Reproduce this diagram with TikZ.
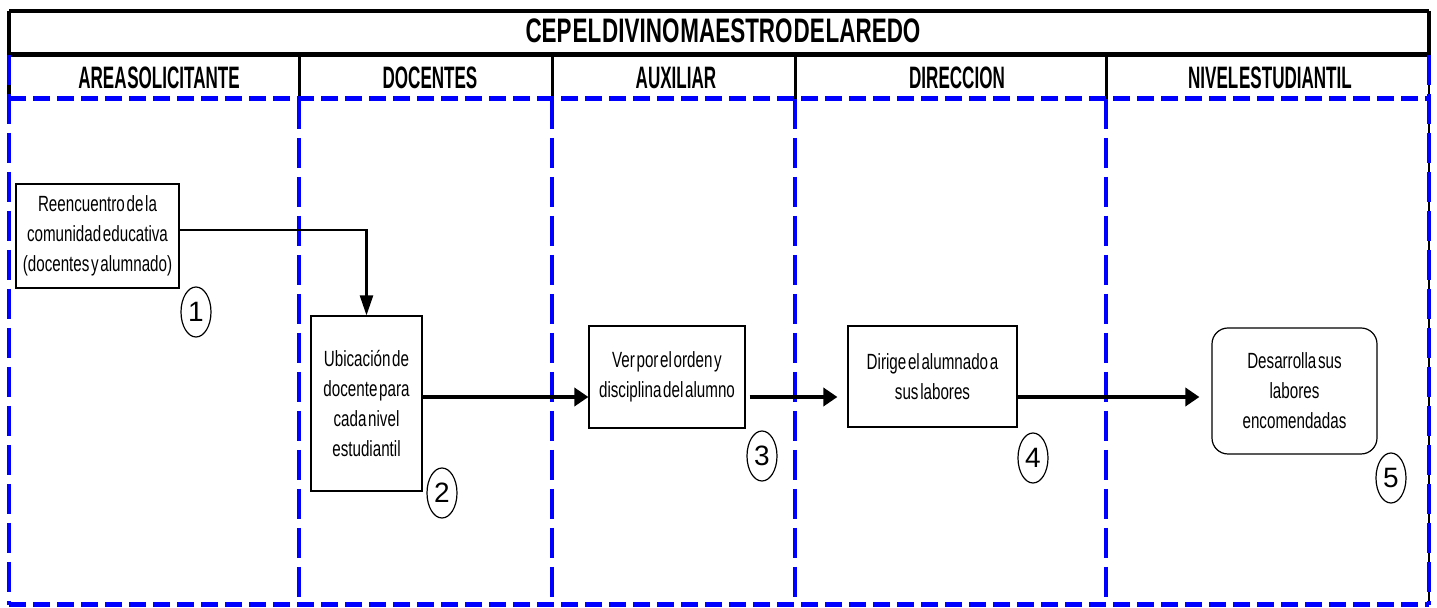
\documentclass[tikz,border=0pt]{standalone}
\usepackage{fontspec}
\setmainfont{Liberation Sans}
\newfontfamily\fuenteTitulo[FakeStretch=0.66,WordSpace=0.15]{Liberation Sans}
\newfontfamily\fuenteCarril[FakeStretch=0.55,WordSpace=0.15]{Liberation Sans}
\newfontfamily\fuenteCaja[FakeStretch=0.69,WordSpace=0.4]{Liberation Sans}
\usetikzlibrary{positioning, arrows.meta, calc, shapes.geometric}
\definecolor{carrilAzul}{HTML}{0000FF}

\tikzset{
  caja/.style={draw, line width=0.6pt, align=center, inner sep=0pt,
    font=\fuenteCaja\fontsize{11}{15}\selectfont},
  numero/.style={draw, ellipse, line width=0.6pt, inner sep=0pt,
    minimum width=15pt, minimum height=25pt, font=\fontsize{14}{14}\selectfont},
  encabezado/.style={font=\fuenteCarril\bfseries\fontsize{15.5}{15.5}\selectfont},
  flecha/.style={line width=1.8pt, -{Triangle[length=7pt,width=9pt]}},
  flechaBaja/.style={line width=1.2pt, -{Triangle[length=10pt,width=6.5pt]}},
  carrilH/.style={carrilAzul, line width=2.5pt, dash pattern=on 8.5pt off 3.5pt},
  carrilV/.style={carrilAzul, line width=2pt, dash pattern=on 15pt off 4.5pt}
}

\begin{document}
\begin{tikzpicture}[x=0.5pt, y=-0.5pt]
  \useasboundingbox (0,0) rectangle (1437,608);
  % Marco del titulo
  \draw[line width=2pt] (9,11) -- (1429,11);
  \draw[line width=2.5pt] (9,55) -- (1429,55);
  \draw[line width=2pt] (9,11) -- (9,95);
  \draw[line width=2pt] (1429,11) -- (1429,55);
  \draw[line width=0.8pt] (1429,55) -- (1429,605);
  \node[font=\fuenteTitulo\bfseries\fontsize{17}{17}\selectfont] (titulo) at (723,31)
    {CEP EL DIVINO MAESTRO DE LAREDO};
  % Separadores de carriles
  \foreach \xs in {299,552,795,1106} {
    \draw[line width=1.5pt] (\xs,55) -- (\xs,99);
    \draw[carrilV] (\xs,99) -- (\xs,605);
  }
  \draw[carrilV] (9,55) -- (9,605);
  \draw[carrilV] (1429,55) -- (1429,605);
  \draw[carrilH] (9,99) -- (1429,99);
  \draw[carrilH] (9,605) -- (1429,605);
  % Encabezados de carriles
  \foreach \xc/\txt [count=\i] in {159/AREA SOLICITANTE, 430/DOCENTES, 676/AUXILIAR,
                                  957/DIRECCION, 1270/NIVEL ESTUDIANTIL} {
    \node[encabezado] (enc\i) at (\xc,78) {\txt};
  }
  % Actividades
  \node[caja, minimum width=81.5pt, minimum height=52pt] (b1) at (97.5,236)
    {Reencuentro de la\\comunidad educativa\\(docentes y alumnado)};
  \node[caja, minimum width=55.5pt, minimum height=87.5pt] (b2) at (366.5,403.5)
    {Ubicación de\\docente para\\cada nivel\\estudiantil};
  \node[caja, minimum width=78pt, minimum height=51pt] (b3) at (667,377)
    {Ver por el orden y\\disciplina del alumno};
  \node[caja, minimum width=84.5pt, minimum height=50.5pt] (b4) at (932.5,376.5)
    {Dirige el alumnado a\\sus labores};
  \node[caja, rounded corners=8pt, minimum width=82.5pt, minimum height=63pt] (b5) at (1294.5,391)
    {Desarrolla sus\\labores\\encomendadas};
  % Numeros
  \node[numero] (n1) at (196,312) {1};
  \node[numero] (n2) at (442,493) {2};
  \node[numero] (n3) at (762,456) {3};
  \node[numero] (n4) at (1033,458) {4};
  \node[numero] (n5) at (1391,478) {5};
  % Flujo
  \coordinate (flujo) at (0,397);
  \draw[flechaBaja] ([yshift=3pt]b1.east) -| (b2.north);
  \draw[flecha] (b2.east |- flujo) -- (b3.west |- flujo);
  \draw[flecha, shorten <=2pt, shorten >=5pt] (b3.east |- flujo) -- (b4.west |- flujo);
  \draw[flecha, shorten >=6pt] (b4.east |- flujo) -- (b5.west |- flujo);
\end{tikzpicture}
\end{document}
